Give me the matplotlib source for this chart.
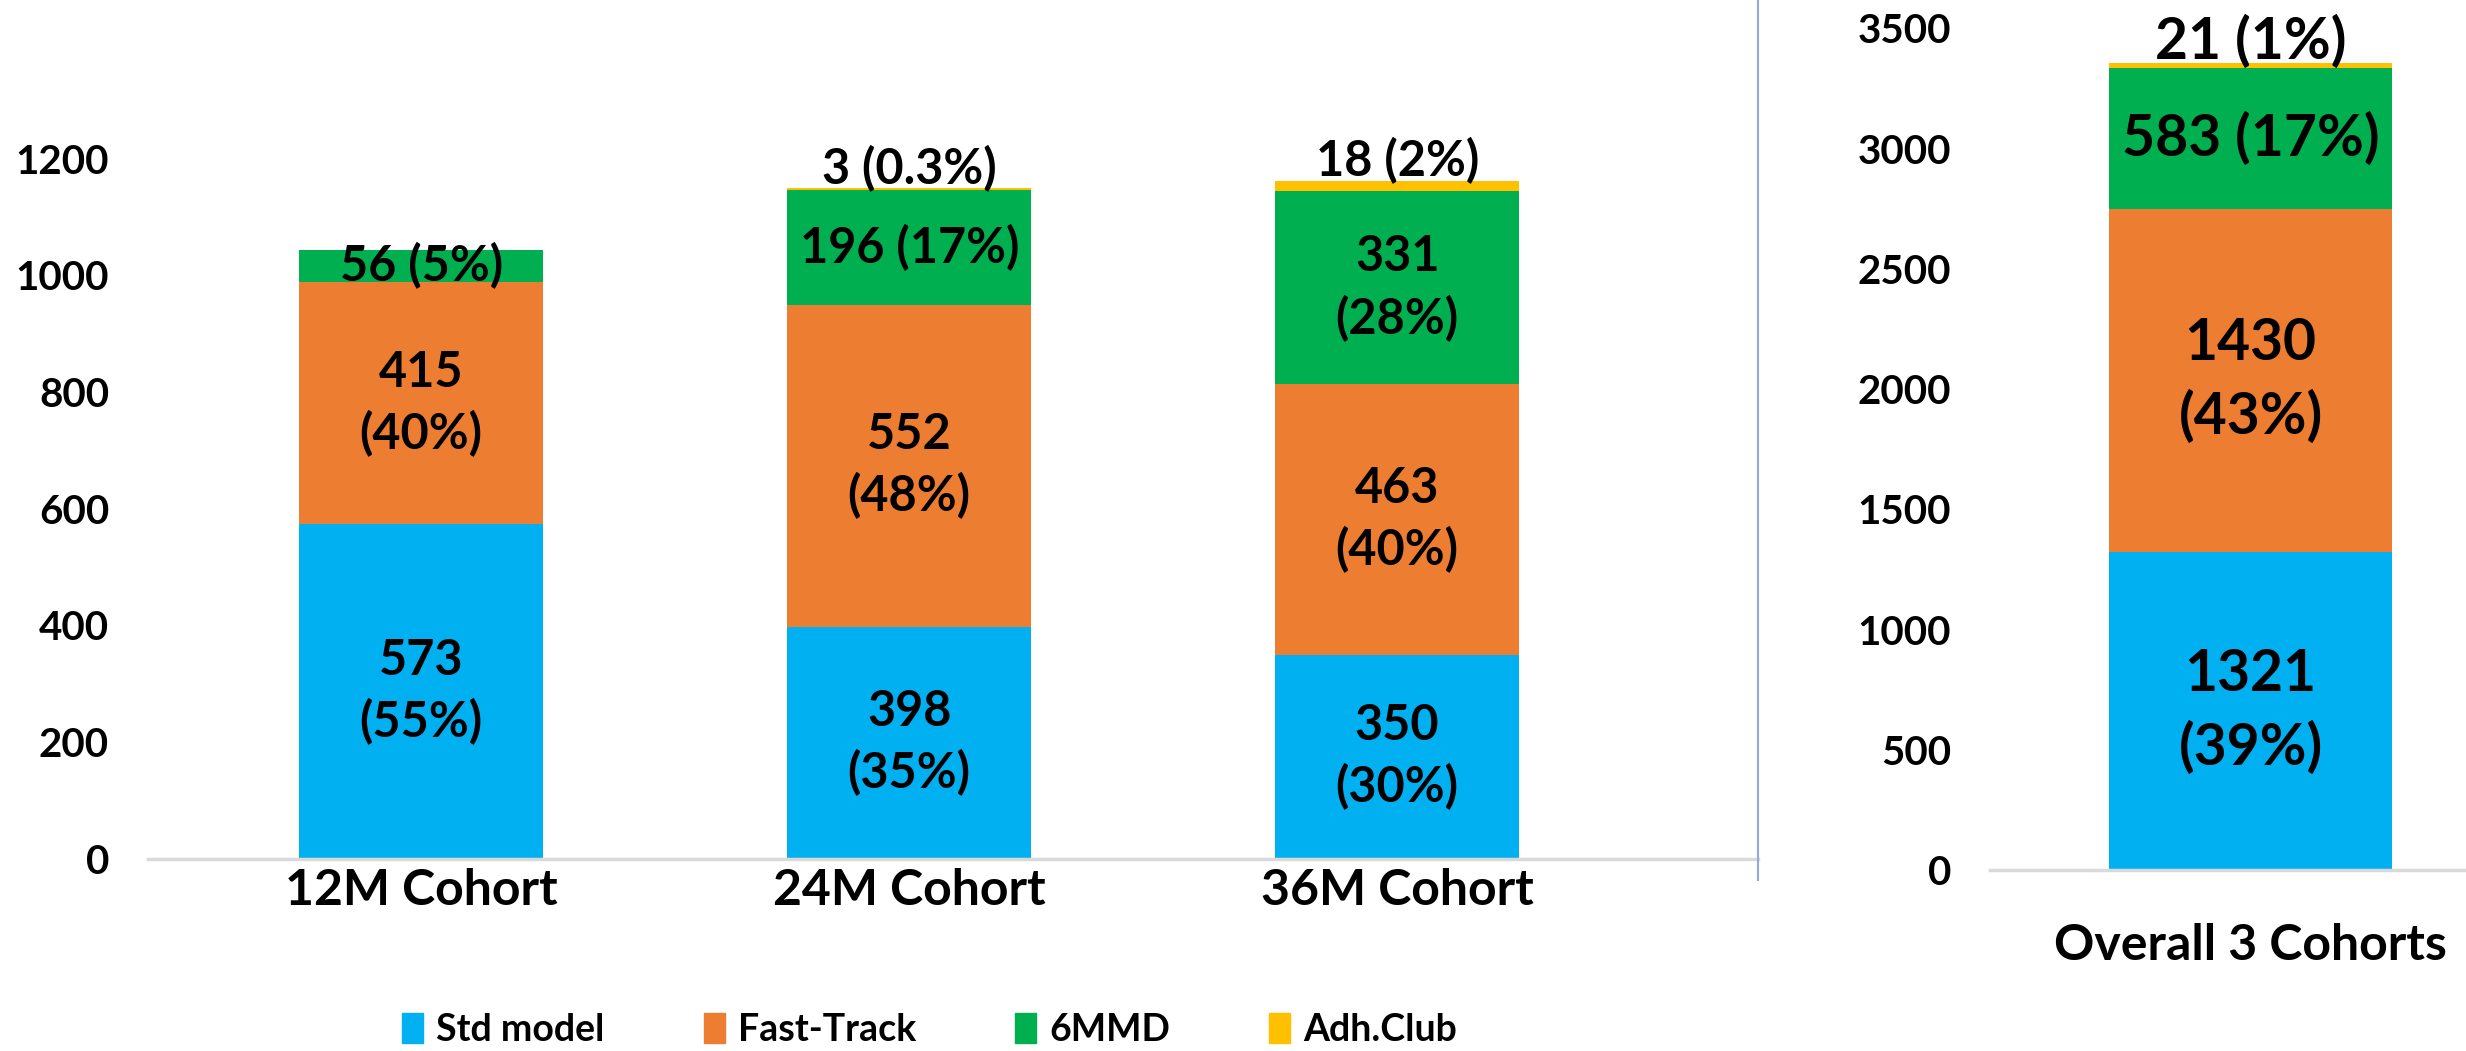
import matplotlib
matplotlib.use("Agg")
import matplotlib.pyplot as plt
import numpy as np
from matplotlib.lines import Line2D

plt.rcParams['font.family'] = ['Lato', 'DejaVu Sans']
plt.rcParams['font.weight'] = 'bold'

# data
cohorts = ["12M Cohort", "24M Cohort", "36M Cohort"]
series = ["Std model", "Fast-Track", "6MMD", "Adh.Club"]
colors = ["#00B0F0", "#ED7D31", "#00B050", "#FFC000"]
std_model = [573, 398, 350]
fast_track = [415, 552, 463]
mmd6 = [56, 196, 331]
adh_club = [0, 3, 18]
overall_label = "Overall 3 Cohorts"
overall = [1321, 1430, 583, 21]

# label text for each segment (None = no label)
left_labels = [
    ["573\n(55%)", "398\n(35%)", "350\n(30%)"],
    ["415\n(40%)", "552\n(48%)", "463\n(40%)"],
    ["56 (5%)", "196 (17%)", "331\n(28%)"],
    [None, "3 (0.3%)", "18 (2%)"],
]
overall_labels = ["1321\n(39%)", "1430\n(43%)", "583 (17%)", "21 (1%)"]

fig = plt.figure(figsize=(24.66, 10.51), dpi=100)
ax1 = fig.add_axes([0.060, 0.183, 0.653, 0.777])
ax2 = fig.add_axes([0.807, 0.172, 0.193, 0.801])

def style(ax):
    for s in ["top", "right", "left"]:
        ax.spines[s].set_visible(False)
    ax.spines["bottom"].set_color("#D9D9D9")
    ax.spines["bottom"].set_linewidth(2.5)
    ax.tick_params(axis="both", length=0)
    ax.tick_params(axis="y", pad=28, labelsize=29)

style(ax1)
style(ax2)

# left panel
x = np.arange(len(cohorts))
stack = [std_model, fast_track, mmd6, adh_club]
bottom = np.zeros(len(cohorts))
for vals, col, labs in zip(stack, colors, left_labels):
    vals = np.array(vals)
    ax1.bar(x, vals, 0.5, bottom=bottom, color=col)
    for i, lab in enumerate(labs):
        if lab is None:
            continue
        if col == colors[3]:
            ax1.text(x[i], bottom[i] + vals[i] - 6, lab, ha="center", va="bottom",
                     fontsize=35, fontweight="bold")
        else:
            ax1.text(x[i], bottom[i] + vals[i] / 2, lab, ha="center", va="center",
                     fontsize=35, fontweight="bold", linespacing=1.4)
    bottom = bottom + vals

ax1.set_xlim(-0.56, 2.74)
ax1.set_ylim(0, 1400)
ax1.set_yticks(range(0, 1201, 200))
ax1.set_xticks(x)
ax1.set_xticklabels(cohorts, fontsize=36)
ax1.tick_params(axis="x", pad=7)

# right panel
b = 0
for i, (v, col) in enumerate(zip(overall, colors)):
    ax2.bar([0], [v], 0.5, bottom=b, color=col)
    if i == 3:
        ax2.text(0, b + v - 25, overall_labels[i], ha="center", va="bottom",
                 fontsize=41, fontweight="bold")
    else:
        ax2.text(0, b + v / 2, overall_labels[i], ha="center", va="center",
                 fontsize=41, fontweight="bold", linespacing=1.45)
    b += v

ax2.set_xlim(-0.46, 0.38)
ax2.set_ylim(0, 3500)
ax2.set_yticks(range(0, 3501, 500))
ax2.set_xticks([0])
ax2.set_xticklabels([overall_label], fontsize=36)
ax2.tick_params(axis="x", pad=38)

# divider line between panels
fig.add_artist(Line2D([0.713, 0.713], [0.163, 1.0], color="#8FAADC", linewidth=1.5))

handles = [plt.Rectangle((0, 0), 1, 1, color=c) for c in colors]
fig.legend(handles, series, loc="center", bbox_to_anchor=(0.377, 0.02), ncol=4,
           frameon=False, fontsize=27, handlelength=0.55, handleheight=0.85,
           handletextpad=0.35, columnspacing=2.65)

fig.savefig("out.png", dpi=100)
